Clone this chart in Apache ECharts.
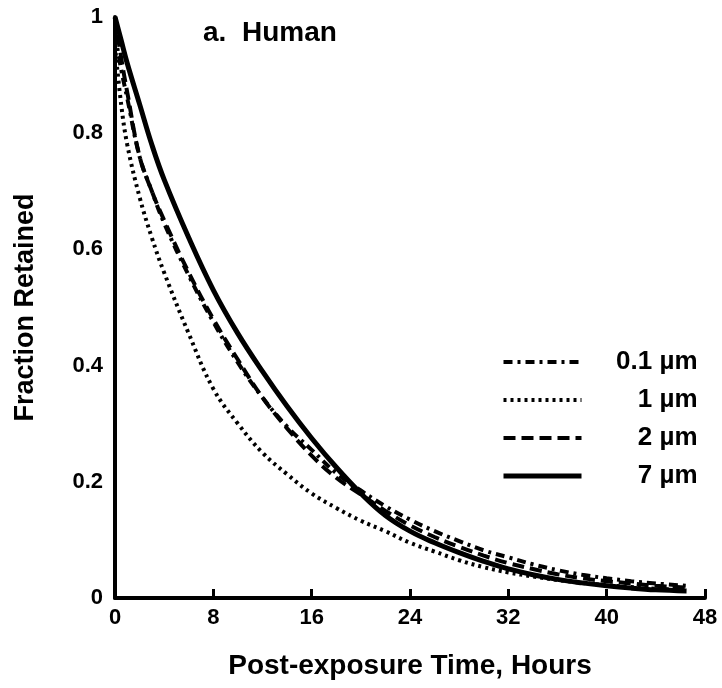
<!DOCTYPE html>
<html>
<head>
<meta charset="utf-8">
<script src="https://cdn.jsdelivr.net/npm/echarts@6/dist/echarts.min.js"></script>
<style>
html,body{margin:0;padding:0;background:#fff;}
#chart{width:722px;height:688px;}
</style>
</head>
<body>
<div id="chart"></div>
<script>
const hours = [0, 0.5, 1, 2, 3, 4, 6, 8, 10, 12, 14, 16, 18, 20, 22, 24, 26, 28, 30, 32, 34, 36, 38, 40, 42, 44, 46.5];
const seriesNames = ['0.1 µm', '1 µm', '2 µm', '7 µm'];
const frac01 = [0.97, 0.91, 0.86, 0.76, 0.70, 0.645, 0.555, 0.475, 0.405, 0.345, 0.295, 0.255, 0.215, 0.185, 0.158, 0.135, 0.115, 0.098, 0.082, 0.070, 0.058, 0.048, 0.040, 0.034, 0.029, 0.025, 0.021];
const frac1 = [0.95, 0.85, 0.78, 0.69, 0.62, 0.56, 0.455, 0.36, 0.30, 0.25, 0.213, 0.18, 0.155, 0.133, 0.115, 0.095, 0.080, 0.065, 0.053, 0.044, 0.037, 0.031, 0.026, 0.022, 0.019, 0.016, 0.014];
const frac2 = [1.0, 0.93, 0.87, 0.76, 0.70, 0.65, 0.56, 0.48, 0.41, 0.345, 0.292, 0.245, 0.207, 0.178, 0.15, 0.125, 0.105, 0.088, 0.073, 0.060, 0.050, 0.041, 0.034, 0.029, 0.025, 0.021, 0.018];
const frac7 = [1.0, 0.96, 0.92, 0.85, 0.78, 0.72, 0.62, 0.53, 0.455, 0.39, 0.33, 0.275, 0.225, 0.18, 0.142, 0.115, 0.095, 0.078, 0.063, 0.050, 0.040, 0.032, 0.026, 0.021, 0.017, 0.014, 0.012];
const xTicks = [0, 8, 16, 24, 32, 40, 48];
const yTicks = [0, 0.2, 0.4, 0.6, 0.8, 1];

const FONT = '"Liberation Sans", Arial, Helvetica, sans-serif';
const pair = arr => hours.map((h, i) => [h, arr[i]]);
const styles = [
  {type: [9, 5, 3, 5], width: 4},
  {type: [3, 4], width: 4},
  {type: [12, 6], width: 4},
  {type: 'solid', width: 5}
];
const dataSets = [frac01, frac1, frac2, frac7];

const chart = echarts.init(document.getElementById('chart'), null, {renderer: 'canvas'});
chart.setOption({
  backgroundColor: '#fff',
  animation: false,
  title: {
    text: 'a.  Human',
    left: 198, top: 14,
    textStyle: {fontFamily: FONT, fontWeight: 'bold', fontSize: 28, color: '#000'}
  },
  legend: {
    orient: 'vertical',
    left: 501, top: 347,
    itemWidth: 78, itemHeight: 14,
    itemGap: 8,
    itemTextGap: 5,
    padding: 0,
    itemStyle: {opacity: 0, borderWidth: 0},
    data: seriesNames.map((name, i) => ({
      name: name,
      itemStyle: {opacity: 0, borderWidth: 0},
      lineStyle: {color: '#000', width: styles[i].width, type: styles[i].type, opacity: 1, cap: 'butt'}
    })),
    formatter: name => '{a|' + name + '}',
    textStyle: {
      fontFamily: FONT, fontWeight: 'bold', fontSize: 26, color: '#000',
      rich: {a: {width: 111, height: 30, lineHeight: 30, align: 'right', fontFamily: FONT, fontWeight: 'bold', fontSize: 26, color: '#000'}}
    }
  },
  grid: {left: 115, right: 17, top: 17, bottom: 90, containLabel: false},
  xAxis: {
    type: 'value', min: 0, max: 48, interval: 8,
    name: 'Post-exposure Time, Hours',
    nameLocation: 'middle', nameGap: 54,
    nameTextStyle: {fontFamily: FONT, fontWeight: 'bold', fontSize: 28, color: '#000'},
    axisLine: {lineStyle: {color: '#000', width: 4}},
    axisTick: {show: true, inside: true, length: 9, lineStyle: {color: '#000', width: 3}},
    axisLabel: {
      margin: 9, fontFamily: FONT, fontWeight: 'bold', fontSize: 22, color: '#000',
      formatter: v => xTicks.includes(v) ? String(v) : ''
    },
    splitLine: {show: false}
  },
  yAxis: {
    type: 'value', min: 0, max: 1, interval: 0.2,
    name: 'Fraction Retained',
    nameLocation: 'middle', nameGap: 76, nameRotate: 90,
    nameTextStyle: {fontFamily: FONT, fontWeight: 'bold', fontSize: 27, color: '#000'},
    axisLine: {show: true, lineStyle: {color: '#000', width: 4}},
    axisTick: {show: false},
    axisLabel: {
      margin: 12, fontFamily: FONT, fontWeight: 'bold', fontSize: 22, color: '#000',
      formatter: v => { const t = yTicks.find(y => Math.abs(y - v) < 1e-9); return t === undefined ? '' : String(+t.toFixed(1)); }
    },
    splitLine: {show: false}
  },
  series: seriesNames.map((name, i) => ({
    name: name,
    type: 'line',
    data: pair(dataSets[i]),
    smooth: 0.4,
    showSymbol: false,
    symbol: 'none',
    lineStyle: {color: '#000', width: styles[i].width, type: styles[i].type, cap: 'butt'},
    itemStyle: {color: '#000'}
  }))
});
</script>
</body>
</html>
